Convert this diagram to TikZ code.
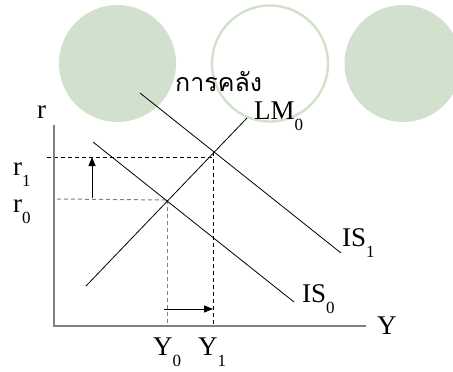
\documentclass[tikz,border=0pt]{standalone}
\usepackage{fontspec}
\setmainfont{Liberation Serif}
\newfontfamily\thaifont[Script=Thai]{Loma}
\usetikzlibrary{arrows.meta}
\definecolor{sage}{RGB}{209,225,205}
\definecolor{axisgray}{RGB}{128,128,128}
\newcommand\subs[1]{\raisebox{-11pt}{\fontsize{17}{17}\selectfont #1}}
\tikzset{
  blob/.style={fill=sage, draw=none},
  ring/.style={draw=sage, line width=2.4pt, fill=white},
  curve/.style={draw=black, line width=0.8pt},
  axisline/.style={draw=axisgray, line width=1.6pt},
  guide/.style={draw=black, line width=0.8pt, dash pattern=on 4pt off 3pt},
  guidegray/.style={draw=axisgray, line width=1pt, dash pattern=on 4pt off 3pt},
  movearrow/.style={draw=black, line width=0.8pt, -{Triangle[length=9pt,width=7pt]}},
  lab/.style={inner sep=0pt, anchor=base west, font=\fontsize{27}{27}\selectfont},
}
\begin{document}
\begin{tikzpicture}[x=1pt,y=-1pt]
\useasboundingbox (0,0) rectangle (453,372);
\clip (0,0) rectangle (453,372);
% decorative circles
\path[blob] (117.5,63.5) circle[radius=58.5];
\path[ring] (270,63.5) circle[radius=58];
\path[blob] (403,63.5) circle[radius=58.5];
% title
\node[inner sep=0pt, anchor=base west, font=\thaifont\fontsize{25}{25}\selectfont] (title) at (175,91) {การคลัง};
% coordinates
\coordinate (O) at (54,326);
\coordinate (Ytop) at (54,125);
\coordinate (Xend) at (366,326);
\coordinate (LMa) at (86,286);
\coordinate (LMb) at (247,118);
\coordinate (ISza) at (93,142);
\coordinate (ISzb) at (294,302);
\coordinate (ISoa) at (140,93);
\coordinate (ISob) at (341,253);
\coordinate (E0) at (167,200);
\coordinate (E1) at (213,152);
\coordinate (r1s) at (47,157);
\coordinate (r1e) at (213,157);
\coordinate (r0s) at (57,199);
\coordinate (Y0b) at (167,326);
\coordinate (Y1b) at (213,326);
\coordinate (va) at (92,198);
\coordinate (vb) at (92,157);
\coordinate (ha) at (164,309);
\coordinate (hb) at (213,309);
% guides
\draw[guide] (r1s) -- (r1e);
\draw[guidegray] (r0s) -- (E0);
\draw[guidegray] (E0) -- (Y0b);
\draw[guide] (E1) -- (Y1b);
% axes
\draw[axisline] (Ytop) -- (O) -- (Xend);
% curves
\draw[curve] (LMa) -- (LMb);
\draw[curve] (ISza) -- (ISzb);
\draw[curve] (ISoa) -- (ISob);
% shift arrows
\draw[movearrow] (va) -- (vb);
\draw[movearrow] (ha) -- (hb);
% labels
\node[lab] (rlab) at (37,118) {r};
\node[lab] (Ylab) at (377,334) {Y};
\node[lab] (r1lab) at (13,175) {r\subs{1}};
\node[lab] (r0lab) at (13,212) {r\subs{0}};
\node[lab] (LMlab) at (254,119) {LM\subs{0}};
\node[lab] (IS1lab) at (342,246) {IS\subs{1}};
\node[lab] (IS0lab) at (302,302) {IS\subs{0}};
\node[lab] (Y0lab) at (153,355) {Y\subs{0}};
\node[lab] (Y1lab) at (198,355) {Y\subs{1}};
\end{tikzpicture}
\end{document}
